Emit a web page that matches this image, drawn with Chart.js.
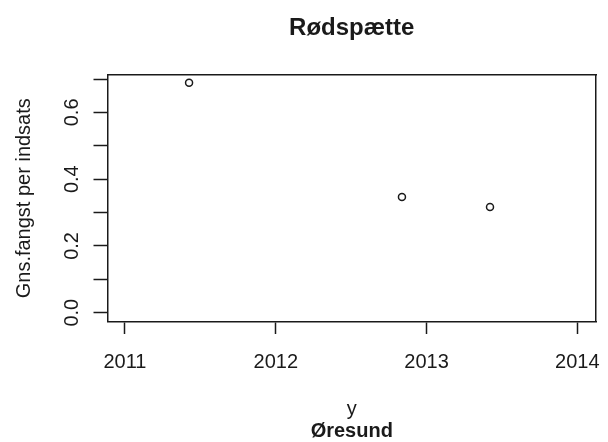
<!DOCTYPE html>
<html>
<head>
<meta charset="utf-8">
<script src="https://cdn.jsdelivr.net/npm/chart.js@4"></script>
<style>
  body { margin: 0; background: #fff; }
</style>
</head>
<body>
<canvas id="chart" width="608" height="442"></canvas>
<script>
// data
var years = [2011.425, 2012.837, 2013.421];
var meanCatch = [0.689, 0.3465, 0.3166];
var xTicks = [2011, 2012, 2013, 2014];
var yTicks = [0, 0.1, 0.2, 0.3, 0.4, 0.5, 0.6, 0.7];
var yLabelled = ["0.0", "0.2", "0.4", "0.6"];

var ink = '#1a1a1a';
Chart.defaults.font.family = "'Liberation Sans', Arial, sans-serif";
Chart.defaults.color = ink;

var points = years.map(function (x, i) { return { x: x, y: meanCatch[i] }; });

// extra axes only carry the frame lines and the titles
var blankAxis = function (position, extra) {
  var o = {
    type: 'linear',
    position: position,
    grid: { display: false, drawTicks: false },
    border: { display: false },
    ticks: { display: false }
  };
  return Object.assign(o, extra);
};

new Chart(document.getElementById('chart'), {
  type: 'scatter',
  data: {
    datasets: [{
      data: points,
      pointRadius: 3.5,
      pointHoverRadius: 3.5,
      pointBorderWidth: 1.5,
      borderColor: ink,
      backgroundColor: 'rgba(0,0,0,0)'
    }]
  },
  options: {
    responsive: false,
    animation: false,
    events: [],
    layout: { padding: { left: 0, right: 12, top: 0, bottom: 0 } },
    plugins: { legend: { display: false }, tooltip: { enabled: false } },
    scales: {
      x: {
        type: 'linear',
        position: 'bottom',
        bounds: 'data',
        min: 2010.884,
        max: 2014.124,
        afterBuildTicks: function (s) { s.ticks = xTicks.map(function (v) { return { value: v }; }); },
        afterFit: function (s) { s.height = 100; s.paddingLeft = 0; s.paddingRight = 0; },
        grid: { display: true, drawOnChartArea: false, drawTicks: true, tickLength: 12.5, tickColor: ink, tickWidth: 1.5 },
        border: { display: true, color: ink, width: 1.5 },
        ticks: {
          font: { size: 20 }, padding: 16, color: ink, maxRotation: 0, autoSkip: false,
          callback: function (v) { return String(v); }
        },
        title: { display: true, text: 'y', color: ink, font: { size: 20, lineHeight: 1 }, padding: { top: 0, bottom: 2.5 } }
      },
      sub: blankAxis('bottom', {
        afterFit: function (s) { s.height = 20.5; },
        title: { display: true, text: 'Øresund', color: ink, font: { size: 20, weight: 'bold', lineHeight: 1 }, padding: { top: 0, bottom: 0.5 } }
      }),
      top: blankAxis('top', {
        afterFit: function (s) { s.height = 75; },
        border: { display: true, color: ink, width: 1.5 },
        title: { display: true, text: 'Rødspætte', color: ink, font: { size: 24, weight: 'bold', lineHeight: 1 }, padding: { top: 16, bottom: 35 } }
      }),
      y: {
        type: 'linear',
        position: 'left',
        bounds: 'data',
        min: -0.0264,
        max: 0.712,
        afterBuildTicks: function (s) { s.ticks = yTicks.map(function (v) { return { value: v }; }); },
        afterFit: function (s) { s.width = 107.5; },
        grid: { display: true, drawOnChartArea: false, drawTicks: true, tickLength: 14, tickColor: ink, tickWidth: 1.5 },
        border: { display: true, color: ink, width: 1.5 },
        ticks: {
          font: { size: 20 }, padding: 7, color: ink, minRotation: 90, maxRotation: 90,
          crossAlign: 'center', autoSkip: false,
          callback: function (v) {
            var t = v.toFixed(1);
            return yLabelled.indexOf(t) >= 0 ? t : '';
          }
        },
        title: { display: true, text: 'Gns.fangst per indsats', color: ink, font: { size: 20, lineHeight: 1 }, padding: { top: 14, bottom: 0 } }
      },
      right: blankAxis('right', {
        afterFit: function (s) { s.width = 0; },
        border: { display: true, color: ink, width: 1.5 }
      })
    }
  }
});
</script>
</body>
</html>
